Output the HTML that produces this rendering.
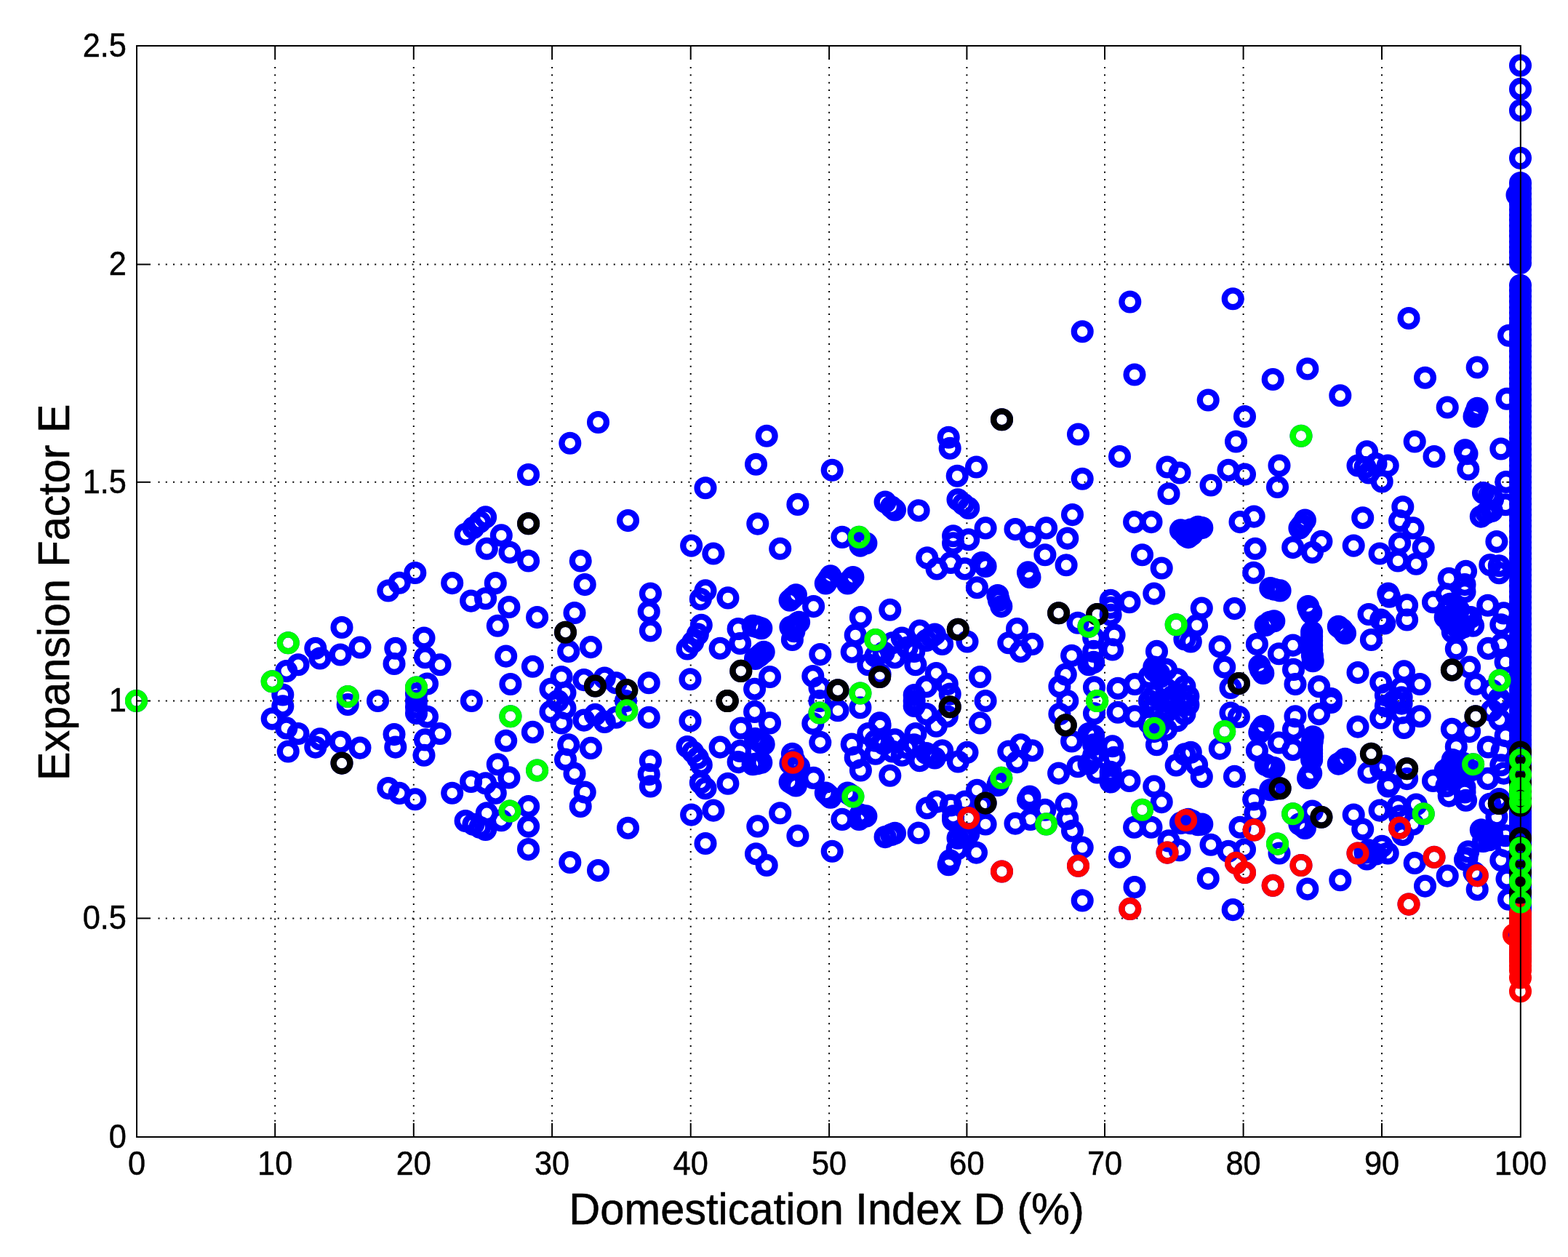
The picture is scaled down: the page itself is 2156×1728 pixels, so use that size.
<!DOCTYPE html>
<html><head><meta charset="utf-8"><title>Expansion Factor E vs Domestication Index D</title>
<style>
html,body{margin:0;padding:0;background:#fff;}
body{width:2156px;height:1728px;overflow:hidden;}
svg{display:block;}
</style></head>
<body>
<svg width="2156" height="1728" viewBox="0 0 2156 1728">
<rect width="2156" height="1728" fill="#fff"/>
<g stroke="#000" stroke-width="2" stroke-dasharray="2 8.2667" fill="none"><line x1="378.20" y1="92.10" x2="378.20" y2="1542.00"/><line x1="568.80" y1="92.10" x2="568.80" y2="1542.00"/><line x1="759.10" y1="92.10" x2="759.10" y2="1542.00"/><line x1="949.70" y1="92.10" x2="949.70" y2="1542.00"/><line x1="1140.10" y1="92.10" x2="1140.10" y2="1542.00"/><line x1="1329.40" y1="92.10" x2="1329.40" y2="1542.00"/><line x1="1519.00" y1="92.10" x2="1519.00" y2="1542.00"/><line x1="1709.60" y1="92.10" x2="1709.60" y2="1542.00"/><line x1="1900.00" y1="92.10" x2="1900.00" y2="1542.00"/><line x1="217.50" y1="1262.40" x2="2069.40" y2="1262.40"/><line x1="217.50" y1="963.50" x2="2069.40" y2="963.50"/><line x1="217.50" y1="662.80" x2="2069.40" y2="662.80"/><line x1="217.50" y1="363.50" x2="2069.40" y2="363.50"/></g>
<g stroke="#000" stroke-width="2" fill="none"><line x1="378.2" y1="1563.0" x2="378.2" y2="1544.0"/><line x1="378.2" y1="63.0" x2="378.2" y2="82.0"/><line x1="568.8" y1="1563.0" x2="568.8" y2="1544.0"/><line x1="568.8" y1="63.0" x2="568.8" y2="82.0"/><line x1="759.1" y1="1563.0" x2="759.1" y2="1544.0"/><line x1="759.1" y1="63.0" x2="759.1" y2="82.0"/><line x1="949.7" y1="1563.0" x2="949.7" y2="1544.0"/><line x1="949.7" y1="63.0" x2="949.7" y2="82.0"/><line x1="1140.1" y1="1563.0" x2="1140.1" y2="1544.0"/><line x1="1140.1" y1="63.0" x2="1140.1" y2="82.0"/><line x1="1329.4" y1="1563.0" x2="1329.4" y2="1544.0"/><line x1="1329.4" y1="63.0" x2="1329.4" y2="82.0"/><line x1="1519.0" y1="1563.0" x2="1519.0" y2="1544.0"/><line x1="1519.0" y1="63.0" x2="1519.0" y2="82.0"/><line x1="1709.6" y1="1563.0" x2="1709.6" y2="1544.0"/><line x1="1709.6" y1="63.0" x2="1709.6" y2="82.0"/><line x1="1900.0" y1="1563.0" x2="1900.0" y2="1544.0"/><line x1="1900.0" y1="63.0" x2="1900.0" y2="82.0"/><line x1="188.0" y1="1262.4" x2="207.0" y2="1262.4"/><line x1="2090.4" y1="1262.4" x2="2071.4" y2="1262.4"/><line x1="188.0" y1="963.5" x2="207.0" y2="963.5"/><line x1="2090.4" y1="963.5" x2="2071.4" y2="963.5"/><line x1="188.0" y1="662.8" x2="207.0" y2="662.8"/><line x1="2090.4" y1="662.8" x2="2071.4" y2="662.8"/><line x1="188.0" y1="363.5" x2="207.0" y2="363.5"/><line x1="2090.4" y1="363.5" x2="2071.4" y2="363.5"/></g>
<g fill="none" stroke-width="8.3"><g stroke="#0000ff"><circle cx="187.5" cy="963.5" r="11.4"/><circle cx="396.2" cy="883.8" r="11.4"/><circle cx="396.2" cy="1033.0" r="11.4"/><circle cx="374.2" cy="936.8" r="11.4"/><circle cx="374.2" cy="988.1" r="11.4"/><circle cx="433.8" cy="891.2" r="11.4"/><circle cx="433.8" cy="1027.1" r="11.4"/><circle cx="440.0" cy="905.0" r="11.4"/><circle cx="440.0" cy="1015.9" r="11.4"/><circle cx="410.0" cy="913.8" r="11.4"/><circle cx="410.0" cy="1008.5" r="11.4"/><circle cx="393.8" cy="922.5" r="11.4"/><circle cx="393.8" cy="1000.9" r="11.4"/><circle cx="470.0" cy="862.5" r="11.4"/><circle cx="470.0" cy="1049.1" r="11.4"/><circle cx="468.0" cy="900.0" r="11.4"/><circle cx="468.0" cy="1020.0" r="11.4"/><circle cx="495.0" cy="890.0" r="11.4"/><circle cx="495.0" cy="1028.1" r="11.4"/><circle cx="388.8" cy="955.0" r="11.4"/><circle cx="388.8" cy="970.9" r="11.4"/><circle cx="478.2" cy="957.5" r="11.4"/><circle cx="478.2" cy="968.5" r="11.4"/><circle cx="519.5" cy="963.5" r="11.4"/><circle cx="543.8" cy="891.2" r="11.4"/><circle cx="543.8" cy="1027.1" r="11.4"/><circle cx="542.0" cy="912.5" r="11.4"/><circle cx="542.0" cy="1009.6" r="11.4"/><circle cx="583.0" cy="877.0" r="11.4"/><circle cx="583.0" cy="1038.2" r="11.4"/><circle cx="584.5" cy="903.8" r="11.4"/><circle cx="584.5" cy="1016.9" r="11.4"/><circle cx="587.5" cy="940.0" r="11.4"/><circle cx="587.5" cy="985.2" r="11.4"/><circle cx="572.5" cy="945.0" r="11.4"/><circle cx="572.5" cy="980.5" r="11.4"/><circle cx="572.5" cy="953.8" r="11.4"/><circle cx="572.5" cy="972.1" r="11.4"/><circle cx="572.5" cy="963.5" r="11.4"/><circle cx="570.8" cy="787.5" r="11.4"/><circle cx="570.8" cy="1098.8" r="11.4"/><circle cx="549.2" cy="801.2" r="11.4"/><circle cx="549.2" cy="1090.4" r="11.4"/><circle cx="533.8" cy="812.0" r="11.4"/><circle cx="533.8" cy="1083.6" r="11.4"/><circle cx="822.5" cy="580.5" r="11.4"/><circle cx="822.5" cy="1196.6" r="11.4"/><circle cx="783.8" cy="609.2" r="11.4"/><circle cx="783.8" cy="1185.5" r="11.4"/><circle cx="726.5" cy="652.5" r="11.4"/><circle cx="726.5" cy="1167.6" r="11.4"/><circle cx="1054.2" cy="599.2" r="11.4"/><circle cx="1054.2" cy="1189.5" r="11.4"/><circle cx="1039.5" cy="638.2" r="11.4"/><circle cx="1039.5" cy="1173.7" r="11.4"/><circle cx="1144.2" cy="646.2" r="11.4"/><circle cx="1144.2" cy="1170.3" r="11.4"/><circle cx="970.0" cy="670.8" r="11.4"/><circle cx="970.0" cy="1159.5" r="11.4"/><circle cx="1553.8" cy="415.0" r="11.4"/><circle cx="1553.8" cy="1249.4" r="11.4"/><circle cx="1488.2" cy="455.8" r="11.4"/><circle cx="1488.2" cy="1237.9" r="11.4"/><circle cx="1560.0" cy="515.0" r="11.4"/><circle cx="1560.0" cy="1219.5" r="11.4"/><circle cx="1661.2" cy="550.0" r="11.4"/><circle cx="1661.2" cy="1207.6" r="11.4"/><circle cx="1482.5" cy="597.0" r="11.4"/><circle cx="1482.5" cy="1190.3" r="11.4"/><circle cx="1539.5" cy="627.5" r="11.4"/><circle cx="1539.5" cy="1178.2" r="11.4"/><circle cx="1304.2" cy="601.2" r="11.4"/><circle cx="1304.2" cy="1188.7" r="11.4"/><circle cx="1306.2" cy="616.2" r="11.4"/><circle cx="1306.2" cy="1182.8" r="11.4"/><circle cx="1342.5" cy="642.0" r="11.4"/><circle cx="1342.5" cy="1172.1" r="11.4"/><circle cx="1316.2" cy="654.2" r="11.4"/><circle cx="1316.2" cy="1166.9" r="11.4"/><circle cx="1488.2" cy="658.2" r="11.4"/><circle cx="1488.2" cy="1165.1" r="11.4"/><circle cx="1605.0" cy="642.0" r="11.4"/><circle cx="1605.0" cy="1172.1" r="11.4"/><circle cx="1622.0" cy="650.0" r="11.4"/><circle cx="1622.0" cy="1168.7" r="11.4"/><circle cx="1607.0" cy="678.8" r="11.4"/><circle cx="1607.0" cy="1155.9" r="11.4"/><circle cx="1665.0" cy="667.0" r="11.4"/><circle cx="1665.0" cy="1161.2" r="11.4"/><circle cx="1377.5" cy="576.8" r="11.4"/><circle cx="1377.5" cy="1198.0" r="11.4"/><circle cx="1695.2" cy="410.8" r="11.4"/><circle cx="1695.2" cy="1250.6" r="11.4"/><circle cx="1937.0" cy="437.5" r="11.4"/><circle cx="1937.0" cy="1243.1" r="11.4"/><circle cx="1797.8" cy="507.0" r="11.4"/><circle cx="1797.8" cy="1222.1" r="11.4"/><circle cx="1750.2" cy="521.5" r="11.4"/><circle cx="1750.2" cy="1217.3" r="11.4"/><circle cx="1842.8" cy="543.8" r="11.4"/><circle cx="1842.8" cy="1209.8" r="11.4"/><circle cx="1711.5" cy="572.5" r="11.4"/><circle cx="1711.5" cy="1199.5" r="11.4"/><circle cx="1699.5" cy="607.0" r="11.4"/><circle cx="1699.5" cy="1186.4" r="11.4"/><circle cx="1959.5" cy="519.2" r="11.4"/><circle cx="1959.5" cy="1218.1" r="11.4"/><circle cx="2031.2" cy="505.0" r="11.4"/><circle cx="2031.2" cy="1222.7" r="11.4"/><circle cx="1990.2" cy="560.0" r="11.4"/><circle cx="1990.2" cy="1204.1" r="11.4"/><circle cx="2031.2" cy="561.2" r="11.4"/><circle cx="2031.2" cy="1203.6" r="11.4"/><circle cx="2029.0" cy="567.0" r="11.4"/><circle cx="2029.0" cy="1201.6" r="11.4"/><circle cx="2027.0" cy="572.5" r="11.4"/><circle cx="2027.0" cy="1199.5" r="11.4"/><circle cx="2072.0" cy="548.2" r="11.4"/><circle cx="2072.0" cy="1208.2" r="11.4"/><circle cx="2074.5" cy="461.2" r="11.4"/><circle cx="2074.5" cy="1236.2" r="11.4"/><circle cx="1945.2" cy="607.0" r="11.4"/><circle cx="1945.2" cy="1186.4" r="11.4"/><circle cx="1972.0" cy="627.5" r="11.4"/><circle cx="1972.0" cy="1178.2" r="11.4"/><circle cx="2014.5" cy="618.8" r="11.4"/><circle cx="2014.5" cy="1181.7" r="11.4"/><circle cx="2017.0" cy="623.8" r="11.4"/><circle cx="2017.0" cy="1179.7" r="11.4"/><circle cx="2018.8" cy="645.0" r="11.4"/><circle cx="2018.8" cy="1170.8" r="11.4"/><circle cx="2063.8" cy="617.0" r="11.4"/><circle cx="2063.8" cy="1182.5" r="11.4"/><circle cx="1879.5" cy="620.8" r="11.4"/><circle cx="1879.5" cy="1180.9" r="11.4"/><circle cx="1867.0" cy="640.0" r="11.4"/><circle cx="1867.0" cy="1173.0" r="11.4"/><circle cx="1877.0" cy="642.5" r="11.4"/><circle cx="1877.0" cy="1171.9" r="11.4"/><circle cx="1892.0" cy="637.5" r="11.4"/><circle cx="1892.0" cy="1174.0" r="11.4"/><circle cx="1908.2" cy="640.0" r="11.4"/><circle cx="1908.2" cy="1173.0" r="11.4"/><circle cx="1900.2" cy="662.0" r="11.4"/><circle cx="1900.2" cy="1163.4" r="11.4"/><circle cx="1882.0" cy="650.0" r="11.4"/><circle cx="1882.0" cy="1168.7" r="11.4"/><circle cx="1759.0" cy="640.0" r="11.4"/><circle cx="1759.0" cy="1173.0" r="11.4"/><circle cx="1756.5" cy="669.5" r="11.4"/><circle cx="1756.5" cy="1160.1" r="11.4"/><circle cx="1689.0" cy="646.2" r="11.4"/><circle cx="1689.0" cy="1170.3" r="11.4"/><circle cx="1711.5" cy="652.0" r="11.4"/><circle cx="1711.5" cy="1167.8" r="11.4"/><circle cx="2070.8" cy="662.5" r="11.4"/><circle cx="2070.8" cy="1163.2" r="11.4"/><circle cx="2039.5" cy="677.5" r="11.4"/><circle cx="2039.5" cy="1156.5" r="11.4"/><circle cx="1789.0" cy="599.2" r="11.4"/><circle cx="1789.0" cy="1189.5" r="11.4"/><circle cx="667.6" cy="710.9" r="11.4"/><circle cx="667.6" cy="1140.5" r="11.4"/><circle cx="659.8" cy="717.6" r="11.4"/><circle cx="659.8" cy="1137.2" r="11.4"/><circle cx="650.9" cy="725.4" r="11.4"/><circle cx="650.9" cy="1133.2" r="11.4"/><circle cx="640.1" cy="734.3" r="11.4"/><circle cx="640.1" cy="1128.6" r="11.4"/><circle cx="689.3" cy="735.9" r="11.4"/><circle cx="689.3" cy="1127.7" r="11.4"/><circle cx="669.3" cy="754.3" r="11.4"/><circle cx="669.3" cy="1117.8" r="11.4"/><circle cx="701.0" cy="759.3" r="11.4"/><circle cx="701.0" cy="1115.1" r="11.4"/><circle cx="726.6" cy="771.0" r="11.4"/><circle cx="726.6" cy="1108.5" r="11.4"/><circle cx="863.5" cy="715.6" r="11.4"/><circle cx="863.5" cy="1138.2" r="11.4"/><circle cx="950.6" cy="750.1" r="11.4"/><circle cx="950.6" cy="1120.1" r="11.4"/><circle cx="798.2" cy="771.0" r="11.4"/><circle cx="798.2" cy="1108.5" r="11.4"/><circle cx="804.2" cy="803.6" r="11.4"/><circle cx="804.2" cy="1089.0" r="11.4"/><circle cx="621.7" cy="801.6" r="11.4"/><circle cx="621.7" cy="1090.2" r="11.4"/><circle cx="681.3" cy="801.6" r="11.4"/><circle cx="681.3" cy="1090.2" r="11.4"/><circle cx="667.6" cy="822.8" r="11.4"/><circle cx="667.6" cy="1076.7" r="11.4"/><circle cx="647.6" cy="826.1" r="11.4"/><circle cx="647.6" cy="1074.5" r="11.4"/><circle cx="699.9" cy="834.5" r="11.4"/><circle cx="699.9" cy="1068.9" r="11.4"/><circle cx="738.6" cy="848.6" r="11.4"/><circle cx="738.6" cy="1059.0" r="11.4"/><circle cx="684.3" cy="860.3" r="11.4"/><circle cx="684.3" cy="1050.7" r="11.4"/><circle cx="790.0" cy="842.5" r="11.4"/><circle cx="790.0" cy="1063.4" r="11.4"/><circle cx="894.4" cy="816.1" r="11.4"/><circle cx="894.4" cy="1081.0" r="11.4"/><circle cx="892.2" cy="840.8" r="11.4"/><circle cx="892.2" cy="1064.5" r="11.4"/><circle cx="894.4" cy="867.0" r="11.4"/><circle cx="894.4" cy="1045.7" r="11.4"/><circle cx="695.7" cy="902.1" r="11.4"/><circle cx="695.7" cy="1018.3" r="11.4"/><circle cx="732.4" cy="916.3" r="11.4"/><circle cx="732.4" cy="1006.4" r="11.4"/><circle cx="781.7" cy="895.4" r="11.4"/><circle cx="781.7" cy="1023.8" r="11.4"/><circle cx="812.4" cy="889.6" r="11.4"/><circle cx="812.4" cy="1028.4" r="11.4"/><circle cx="945.1" cy="891.9" r="11.4"/><circle cx="945.1" cy="1026.6" r="11.4"/><circle cx="952.7" cy="882.7" r="11.4"/><circle cx="952.7" cy="1033.8" r="11.4"/><circle cx="959.3" cy="871.9" r="11.4"/><circle cx="959.3" cy="1042.1" r="11.4"/><circle cx="605.0" cy="913.8" r="11.4"/><circle cx="605.0" cy="1008.5" r="11.4"/><circle cx="701.9" cy="940.5" r="11.4"/><circle cx="701.9" cy="984.7" r="11.4"/><circle cx="772.0" cy="930.5" r="11.4"/><circle cx="772.0" cy="993.9" r="11.4"/><circle cx="757.0" cy="947.2" r="11.4"/><circle cx="757.0" cy="978.4" r="11.4"/><circle cx="777.0" cy="952.2" r="11.4"/><circle cx="777.0" cy="973.6" r="11.4"/><circle cx="802.9" cy="934.6" r="11.4"/><circle cx="802.9" cy="990.1" r="11.4"/><circle cx="831.3" cy="932.1" r="11.4"/><circle cx="831.3" cy="992.4" r="11.4"/><circle cx="847.1" cy="938.8" r="11.4"/><circle cx="847.1" cy="986.3" r="11.4"/><circle cx="892.2" cy="938.8" r="11.4"/><circle cx="892.2" cy="986.3" r="11.4"/><circle cx="949.0" cy="933.8" r="11.4"/><circle cx="949.0" cy="990.8" r="11.4"/><circle cx="648.4" cy="963.5" r="11.4"/><circle cx="767.0" cy="963.5" r="11.4"/><circle cx="860.5" cy="963.5" r="11.4"/><circle cx="726.6" cy="719.7" r="11.4"/><circle cx="726.6" cy="1136.1" r="11.4"/><circle cx="777.5" cy="869.2" r="11.4"/><circle cx="777.5" cy="1044.1" r="11.4"/><circle cx="818.4" cy="943.0" r="11.4"/><circle cx="818.4" cy="982.4" r="11.4"/><circle cx="861.8" cy="948.8" r="11.4"/><circle cx="861.8" cy="976.8" r="11.4"/><circle cx="1096.9" cy="693.4" r="11.4"/><circle cx="1096.9" cy="1149.0" r="11.4"/><circle cx="1041.8" cy="720.1" r="11.4"/><circle cx="1041.8" cy="1135.9" r="11.4"/><circle cx="1072.7" cy="754.3" r="11.4"/><circle cx="1072.7" cy="1117.8" r="11.4"/><circle cx="980.9" cy="761.0" r="11.4"/><circle cx="980.9" cy="1114.1" r="11.4"/><circle cx="1157.9" cy="738.4" r="11.4"/><circle cx="1157.9" cy="1126.4" r="11.4"/><circle cx="1187.1" cy="746.8" r="11.4"/><circle cx="1187.1" cy="1121.9" r="11.4"/><circle cx="1185.4" cy="744.3" r="11.4"/><circle cx="1185.4" cy="1123.3" r="11.4"/><circle cx="1190.9" cy="746.8" r="11.4"/><circle cx="1190.9" cy="1121.9" r="11.4"/><circle cx="1182.9" cy="750.1" r="11.4"/><circle cx="1182.9" cy="1120.1" r="11.4"/><circle cx="1225.5" cy="696.7" r="11.4"/><circle cx="1225.5" cy="1147.4" r="11.4"/><circle cx="1217.1" cy="690.0" r="11.4"/><circle cx="1217.1" cy="1150.6" r="11.4"/><circle cx="1230.5" cy="700.9" r="11.4"/><circle cx="1230.5" cy="1145.4" r="11.4"/><circle cx="1138.7" cy="796.9" r="11.4"/><circle cx="1138.7" cy="1093.1" r="11.4"/><circle cx="1169.1" cy="797.7" r="11.4"/><circle cx="1169.1" cy="1092.6" r="11.4"/><circle cx="1090.2" cy="821.6" r="11.4"/><circle cx="1090.2" cy="1077.4" r="11.4"/><circle cx="1093.6" cy="859.5" r="11.4"/><circle cx="1093.6" cy="1051.3" r="11.4"/><circle cx="1098.6" cy="855.3" r="11.4"/><circle cx="1098.6" cy="1054.3" r="11.4"/><circle cx="1091.9" cy="867.8" r="11.4"/><circle cx="1091.9" cy="1045.1" r="11.4"/><circle cx="1086.9" cy="862.0" r="11.4"/><circle cx="1086.9" cy="1049.4" r="11.4"/><circle cx="1041.0" cy="861.7" r="11.4"/><circle cx="1041.0" cy="1049.7" r="11.4"/><circle cx="1046.8" cy="899.1" r="11.4"/><circle cx="1046.8" cy="1020.8" r="11.4"/><circle cx="1043.5" cy="902.1" r="11.4"/><circle cx="1043.5" cy="1018.3" r="11.4"/><circle cx="1263.1" cy="701.7" r="11.4"/><circle cx="1263.1" cy="1145.0" r="11.4"/><circle cx="1310.6" cy="736.8" r="11.4"/><circle cx="1310.6" cy="1127.3" r="11.4"/><circle cx="1310.6" cy="746.8" r="11.4"/><circle cx="1310.6" cy="1121.9" r="11.4"/><circle cx="1274.7" cy="766.8" r="11.4"/><circle cx="1274.7" cy="1110.8" r="11.4"/><circle cx="1288.1" cy="781.9" r="11.4"/><circle cx="1288.1" cy="1102.1" r="11.4"/><circle cx="1307.3" cy="773.5" r="11.4"/><circle cx="1307.3" cy="1107.0" r="11.4"/><circle cx="1142.0" cy="791.9" r="11.4"/><circle cx="1142.0" cy="1096.2" r="11.4"/><circle cx="1135.3" cy="801.9" r="11.4"/><circle cx="1135.3" cy="1090.0" r="11.4"/><circle cx="1172.9" cy="793.5" r="11.4"/><circle cx="1172.9" cy="1095.1" r="11.4"/><circle cx="1165.4" cy="801.9" r="11.4"/><circle cx="1165.4" cy="1090.0" r="11.4"/><circle cx="1094.4" cy="817.8" r="11.4"/><circle cx="1094.4" cy="1079.9" r="11.4"/><circle cx="1086.1" cy="825.3" r="11.4"/><circle cx="1086.1" cy="1075.0" r="11.4"/><circle cx="1118.6" cy="833.6" r="11.4"/><circle cx="1118.6" cy="1069.4" r="11.4"/><circle cx="1000.9" cy="821.9" r="11.4"/><circle cx="1000.9" cy="1077.2" r="11.4"/><circle cx="970.0" cy="811.9" r="11.4"/><circle cx="970.0" cy="1083.7" r="11.4"/><circle cx="963.3" cy="823.6" r="11.4"/><circle cx="963.3" cy="1076.1" r="11.4"/><circle cx="1223.8" cy="838.3" r="11.4"/><circle cx="1223.8" cy="1066.2" r="11.4"/><circle cx="1183.4" cy="848.6" r="11.4"/><circle cx="1183.4" cy="1059.0" r="11.4"/><circle cx="1096.1" cy="857.0" r="11.4"/><circle cx="1096.1" cy="1053.1" r="11.4"/><circle cx="1090.2" cy="863.7" r="11.4"/><circle cx="1090.2" cy="1048.2" r="11.4"/><circle cx="1089.4" cy="879.5" r="11.4"/><circle cx="1089.4" cy="1036.3" r="11.4"/><circle cx="1176.2" cy="872.9" r="11.4"/><circle cx="1176.2" cy="1041.4" r="11.4"/><circle cx="1171.2" cy="896.2" r="11.4"/><circle cx="1171.2" cy="1023.1" r="11.4"/><circle cx="1127.8" cy="899.6" r="11.4"/><circle cx="1127.8" cy="1020.4" r="11.4"/><circle cx="1015.1" cy="864.5" r="11.4"/><circle cx="1015.1" cy="1047.6" r="11.4"/><circle cx="1035.1" cy="860.3" r="11.4"/><circle cx="1035.1" cy="1050.7" r="11.4"/><circle cx="1046.8" cy="863.7" r="11.4"/><circle cx="1046.8" cy="1048.2" r="11.4"/><circle cx="1017.6" cy="884.5" r="11.4"/><circle cx="1017.6" cy="1032.4" r="11.4"/><circle cx="990.1" cy="891.2" r="11.4"/><circle cx="990.1" cy="1027.1" r="11.4"/><circle cx="1050.2" cy="896.2" r="11.4"/><circle cx="1050.2" cy="1023.1" r="11.4"/><circle cx="1038.5" cy="905.4" r="11.4"/><circle cx="1038.5" cy="1015.5" r="11.4"/><circle cx="1058.5" cy="930.5" r="11.4"/><circle cx="1058.5" cy="993.9" r="11.4"/><circle cx="1037.6" cy="947.2" r="11.4"/><circle cx="1037.6" cy="978.4" r="11.4"/><circle cx="1117.8" cy="929.6" r="11.4"/><circle cx="1117.8" cy="994.6" r="11.4"/><circle cx="1127.0" cy="945.5" r="11.4"/><circle cx="1127.0" cy="980.0" r="11.4"/><circle cx="1203.8" cy="902.1" r="11.4"/><circle cx="1203.8" cy="1018.3" r="11.4"/><circle cx="1193.8" cy="913.8" r="11.4"/><circle cx="1193.8" cy="1008.5" r="11.4"/><circle cx="1227.2" cy="883.7" r="11.4"/><circle cx="1227.2" cy="1033.0" r="11.4"/><circle cx="1230.5" cy="903.7" r="11.4"/><circle cx="1230.5" cy="1016.9" r="11.4"/><circle cx="1247.2" cy="890.4" r="11.4"/><circle cx="1247.2" cy="1027.8" r="11.4"/><circle cx="1264.7" cy="867.0" r="11.4"/><circle cx="1264.7" cy="1045.7" r="11.4"/><circle cx="1280.6" cy="875.4" r="11.4"/><circle cx="1280.6" cy="1039.5" r="11.4"/><circle cx="1295.6" cy="885.4" r="11.4"/><circle cx="1295.6" cy="1031.7" r="11.4"/><circle cx="1258.9" cy="913.8" r="11.4"/><circle cx="1258.9" cy="1008.5" r="11.4"/><circle cx="1287.3" cy="925.5" r="11.4"/><circle cx="1287.3" cy="998.3" r="11.4"/><circle cx="1302.3" cy="940.5" r="11.4"/><circle cx="1302.3" cy="984.7" r="11.4"/><circle cx="1273.9" cy="943.8" r="11.4"/><circle cx="1273.9" cy="981.6" r="11.4"/><circle cx="1257.2" cy="955.5" r="11.4"/><circle cx="1257.2" cy="970.4" r="11.4"/><circle cx="964.3" cy="859.3" r="11.4"/><circle cx="964.3" cy="1051.4" r="11.4"/><circle cx="1127.0" cy="963.5" r="11.4"/><circle cx="1257.2" cy="963.5" r="11.4"/><circle cx="1018.8" cy="922.4" r="11.4"/><circle cx="1018.8" cy="1001.0" r="11.4"/><circle cx="1152.0" cy="948.8" r="11.4"/><circle cx="1152.0" cy="976.8" r="11.4"/><circle cx="1209.6" cy="930.5" r="11.4"/><circle cx="1209.6" cy="993.9" r="11.4"/><circle cx="1000.1" cy="963.5" r="11.4"/><circle cx="1317.3" cy="865.3" r="11.4"/><circle cx="1317.3" cy="1047.0" r="11.4"/><circle cx="1181.2" cy="738.4" r="11.4"/><circle cx="1181.2" cy="1126.4" r="11.4"/><circle cx="1203.8" cy="879.5" r="11.4"/><circle cx="1203.8" cy="1036.3" r="11.4"/><circle cx="1182.9" cy="953.0" r="11.4"/><circle cx="1182.9" cy="972.8" r="11.4"/><circle cx="1474.5" cy="707.6" r="11.4"/><circle cx="1474.5" cy="1142.2" r="11.4"/><circle cx="1355.1" cy="725.9" r="11.4"/><circle cx="1355.1" cy="1132.9" r="11.4"/><circle cx="1396.0" cy="727.6" r="11.4"/><circle cx="1396.0" cy="1132.1" r="11.4"/><circle cx="1438.6" cy="725.9" r="11.4"/><circle cx="1438.6" cy="1132.9" r="11.4"/><circle cx="1416.8" cy="738.4" r="11.4"/><circle cx="1416.8" cy="1126.4" r="11.4"/><circle cx="1467.8" cy="740.1" r="11.4"/><circle cx="1467.8" cy="1125.5" r="11.4"/><circle cx="1331.7" cy="698.4" r="11.4"/><circle cx="1331.7" cy="1146.6" r="11.4"/><circle cx="1331.7" cy="741.8" r="11.4"/><circle cx="1331.7" cy="1124.6" r="11.4"/><circle cx="1436.9" cy="762.7" r="11.4"/><circle cx="1436.9" cy="1113.2" r="11.4"/><circle cx="1466.1" cy="776.8" r="11.4"/><circle cx="1466.1" cy="1105.1" r="11.4"/><circle cx="1350.1" cy="773.5" r="11.4"/><circle cx="1350.1" cy="1107.0" r="11.4"/><circle cx="1355.1" cy="778.5" r="11.4"/><circle cx="1355.1" cy="1104.1" r="11.4"/><circle cx="1326.7" cy="781.9" r="11.4"/><circle cx="1326.7" cy="1102.1" r="11.4"/><circle cx="1413.5" cy="786.9" r="11.4"/><circle cx="1413.5" cy="1099.2" r="11.4"/><circle cx="1416.0" cy="793.5" r="11.4"/><circle cx="1416.0" cy="1095.1" r="11.4"/><circle cx="1343.4" cy="807.7" r="11.4"/><circle cx="1343.4" cy="1086.3" r="11.4"/><circle cx="1371.8" cy="818.6" r="11.4"/><circle cx="1371.8" cy="1079.4" r="11.4"/><circle cx="1373.4" cy="825.3" r="11.4"/><circle cx="1373.4" cy="1075.0" r="11.4"/><circle cx="1376.8" cy="833.6" r="11.4"/><circle cx="1376.8" cy="1069.4" r="11.4"/><circle cx="1559.6" cy="717.6" r="11.4"/><circle cx="1559.6" cy="1137.2" r="11.4"/><circle cx="1583.0" cy="717.6" r="11.4"/><circle cx="1583.0" cy="1137.2" r="11.4"/><circle cx="1570.5" cy="762.7" r="11.4"/><circle cx="1570.5" cy="1113.2" r="11.4"/><circle cx="1597.2" cy="781.0" r="11.4"/><circle cx="1597.2" cy="1102.6" r="11.4"/><circle cx="1586.8" cy="816.1" r="11.4"/><circle cx="1586.8" cy="1081.0" r="11.4"/><circle cx="1552.9" cy="827.8" r="11.4"/><circle cx="1552.9" cy="1073.4" r="11.4"/><circle cx="1527.1" cy="825.3" r="11.4"/><circle cx="1527.1" cy="1075.0" r="11.4"/><circle cx="1527.1" cy="835.3" r="11.4"/><circle cx="1527.1" cy="1068.3" r="11.4"/><circle cx="1527.1" cy="845.3" r="11.4"/><circle cx="1527.1" cy="1061.4" r="11.4"/><circle cx="1652.3" cy="836.1" r="11.4"/><circle cx="1652.3" cy="1067.7" r="11.4"/><circle cx="1645.6" cy="859.5" r="11.4"/><circle cx="1645.6" cy="1051.3" r="11.4"/><circle cx="1628.9" cy="878.7" r="11.4"/><circle cx="1628.9" cy="1036.9" r="11.4"/><circle cx="1637.3" cy="882.0" r="11.4"/><circle cx="1637.3" cy="1034.3" r="11.4"/><circle cx="1590.5" cy="895.4" r="11.4"/><circle cx="1590.5" cy="1023.8" r="11.4"/><circle cx="1398.5" cy="864.5" r="11.4"/><circle cx="1398.5" cy="1047.6" r="11.4"/><circle cx="1386.8" cy="883.7" r="11.4"/><circle cx="1386.8" cy="1033.0" r="11.4"/><circle cx="1419.4" cy="885.4" r="11.4"/><circle cx="1419.4" cy="1031.7" r="11.4"/><circle cx="1403.5" cy="895.4" r="11.4"/><circle cx="1403.5" cy="1023.8" r="11.4"/><circle cx="1330.0" cy="882.0" r="11.4"/><circle cx="1330.0" cy="1034.3" r="11.4"/><circle cx="1482.0" cy="856.2" r="11.4"/><circle cx="1482.0" cy="1053.7" r="11.4"/><circle cx="1532.1" cy="872.9" r="11.4"/><circle cx="1532.1" cy="1041.4" r="11.4"/><circle cx="1529.6" cy="892.9" r="11.4"/><circle cx="1529.6" cy="1025.8" r="11.4"/><circle cx="1503.7" cy="877.0" r="11.4"/><circle cx="1503.7" cy="1038.2" r="11.4"/><circle cx="1503.7" cy="895.4" r="11.4"/><circle cx="1503.7" cy="1023.8" r="11.4"/><circle cx="1473.6" cy="901.2" r="11.4"/><circle cx="1473.6" cy="1019.0" r="11.4"/><circle cx="1503.7" cy="910.4" r="11.4"/><circle cx="1503.7" cy="1011.3" r="11.4"/><circle cx="1497.0" cy="913.8" r="11.4"/><circle cx="1497.0" cy="1008.5" r="11.4"/><circle cx="1465.3" cy="927.1" r="11.4"/><circle cx="1465.3" cy="996.9" r="11.4"/><circle cx="1456.9" cy="943.8" r="11.4"/><circle cx="1456.9" cy="981.6" r="11.4"/><circle cx="1347.6" cy="930.5" r="11.4"/><circle cx="1347.6" cy="993.9" r="11.4"/><circle cx="1504.5" cy="944.7" r="11.4"/><circle cx="1504.5" cy="980.8" r="11.4"/><circle cx="1537.1" cy="946.3" r="11.4"/><circle cx="1537.1" cy="979.2" r="11.4"/><circle cx="1560.4" cy="940.5" r="11.4"/><circle cx="1560.4" cy="984.7" r="11.4"/><circle cx="1587.2" cy="922.1" r="11.4"/><circle cx="1587.2" cy="1001.3" r="11.4"/><circle cx="1595.5" cy="930.5" r="11.4"/><circle cx="1595.5" cy="993.9" r="11.4"/><circle cx="1618.9" cy="933.8" r="11.4"/><circle cx="1618.9" cy="990.8" r="11.4"/><circle cx="1628.9" cy="943.8" r="11.4"/><circle cx="1628.9" cy="981.6" r="11.4"/><circle cx="1603.9" cy="947.2" r="11.4"/><circle cx="1603.9" cy="978.4" r="11.4"/><circle cx="1587.2" cy="955.5" r="11.4"/><circle cx="1587.2" cy="970.4" r="11.4"/><circle cx="1612.2" cy="957.2" r="11.4"/><circle cx="1612.2" cy="968.8" r="11.4"/><circle cx="1633.9" cy="957.2" r="11.4"/><circle cx="1633.9" cy="968.8" r="11.4"/><circle cx="1603.9" cy="963.5" r="11.4"/><circle cx="1623.9" cy="963.5" r="11.4"/><circle cx="1580.5" cy="963.5" r="11.4"/><circle cx="1355.1" cy="963.5" r="11.4"/><circle cx="1467.8" cy="963.5" r="11.4"/><circle cx="1677.3" cy="888.7" r="11.4"/><circle cx="1677.3" cy="1029.1" r="11.4"/><circle cx="1623.4" cy="728.9" r="11.4"/><circle cx="1623.4" cy="1131.4" r="11.4"/><circle cx="1647.3" cy="724.2" r="11.4"/><circle cx="1647.3" cy="1133.8" r="11.4"/><circle cx="1652.8" cy="725.6" r="11.4"/><circle cx="1652.8" cy="1133.1" r="11.4"/><circle cx="1633.9" cy="738.6" r="11.4"/><circle cx="1633.9" cy="1126.3" r="11.4"/><circle cx="1628.9" cy="731.4" r="11.4"/><circle cx="1628.9" cy="1130.1" r="11.4"/><circle cx="1637.3" cy="728.1" r="11.4"/><circle cx="1637.3" cy="1131.8" r="11.4"/><circle cx="1642.3" cy="729.8" r="11.4"/><circle cx="1642.3" cy="1131.0" r="11.4"/><circle cx="1630.6" cy="736.4" r="11.4"/><circle cx="1630.6" cy="1127.5" r="11.4"/><circle cx="1638.9" cy="734.8" r="11.4"/><circle cx="1638.9" cy="1128.3" r="11.4"/><circle cx="1455.6" cy="842.8" r="11.4"/><circle cx="1455.6" cy="1063.1" r="11.4"/><circle cx="1508.7" cy="844.5" r="11.4"/><circle cx="1508.7" cy="1062.0" r="11.4"/><circle cx="1497.0" cy="861.2" r="11.4"/><circle cx="1497.0" cy="1050.1" r="11.4"/><circle cx="1617.2" cy="858.7" r="11.4"/><circle cx="1617.2" cy="1051.9" r="11.4"/><circle cx="1508.7" cy="963.5" r="11.4"/><circle cx="1705.0" cy="717.6" r="11.4"/><circle cx="1705.0" cy="1137.2" r="11.4"/><circle cx="1724.2" cy="710.1" r="11.4"/><circle cx="1724.2" cy="1140.9" r="11.4"/><circle cx="1725.9" cy="754.3" r="11.4"/><circle cx="1725.9" cy="1117.8" r="11.4"/><circle cx="1723.7" cy="787.2" r="11.4"/><circle cx="1723.7" cy="1099.0" r="11.4"/><circle cx="1697.5" cy="836.6" r="11.4"/><circle cx="1697.5" cy="1067.4" r="11.4"/><circle cx="1794.4" cy="715.1" r="11.4"/><circle cx="1794.4" cy="1138.4" r="11.4"/><circle cx="1790.2" cy="721.7" r="11.4"/><circle cx="1790.2" cy="1135.1" r="11.4"/><circle cx="1786.9" cy="725.9" r="11.4"/><circle cx="1786.9" cy="1132.9" r="11.4"/><circle cx="1816.9" cy="744.3" r="11.4"/><circle cx="1816.9" cy="1123.3" r="11.4"/><circle cx="1777.7" cy="752.6" r="11.4"/><circle cx="1777.7" cy="1118.8" r="11.4"/><circle cx="1804.4" cy="759.3" r="11.4"/><circle cx="1804.4" cy="1115.1" r="11.4"/><circle cx="1873.7" cy="711.7" r="11.4"/><circle cx="1873.7" cy="1140.1" r="11.4"/><circle cx="1861.2" cy="750.1" r="11.4"/><circle cx="1861.2" cy="1120.1" r="11.4"/><circle cx="1928.8" cy="696.7" r="11.4"/><circle cx="1928.8" cy="1147.4" r="11.4"/><circle cx="1924.6" cy="715.9" r="11.4"/><circle cx="1924.6" cy="1138.0" r="11.4"/><circle cx="1943.0" cy="725.9" r="11.4"/><circle cx="1943.0" cy="1132.9" r="11.4"/><circle cx="1897.1" cy="761.0" r="11.4"/><circle cx="1897.1" cy="1114.1" r="11.4"/><circle cx="1924.6" cy="746.8" r="11.4"/><circle cx="1924.6" cy="1121.9" r="11.4"/><circle cx="1957.2" cy="752.6" r="11.4"/><circle cx="1957.2" cy="1118.8" r="11.4"/><circle cx="1922.1" cy="771.0" r="11.4"/><circle cx="1922.1" cy="1108.5" r="11.4"/><circle cx="1947.2" cy="775.2" r="11.4"/><circle cx="1947.2" cy="1106.0" r="11.4"/><circle cx="1746.8" cy="808.6" r="11.4"/><circle cx="1746.8" cy="1085.8" r="11.4"/><circle cx="1752.6" cy="810.2" r="11.4"/><circle cx="1752.6" cy="1084.8" r="11.4"/><circle cx="1760.1" cy="811.9" r="11.4"/><circle cx="1760.1" cy="1083.7" r="11.4"/><circle cx="1798.6" cy="833.6" r="11.4"/><circle cx="1798.6" cy="1069.4" r="11.4"/><circle cx="1800.2" cy="838.6" r="11.4"/><circle cx="1800.2" cy="1066.0" r="11.4"/><circle cx="1802.7" cy="842.8" r="11.4"/><circle cx="1802.7" cy="1063.1" r="11.4"/><circle cx="1746.0" cy="855.3" r="11.4"/><circle cx="1746.0" cy="1054.3" r="11.4"/><circle cx="1740.1" cy="859.5" r="11.4"/><circle cx="1740.1" cy="1051.3" r="11.4"/><circle cx="1751.8" cy="853.7" r="11.4"/><circle cx="1751.8" cy="1055.5" r="11.4"/><circle cx="1728.4" cy="885.4" r="11.4"/><circle cx="1728.4" cy="1031.7" r="11.4"/><circle cx="1758.5" cy="898.7" r="11.4"/><circle cx="1758.5" cy="1021.0" r="11.4"/><circle cx="1777.7" cy="887.1" r="11.4"/><circle cx="1777.7" cy="1030.4" r="11.4"/><circle cx="1803.6" cy="868.7" r="11.4"/><circle cx="1803.6" cy="1044.5" r="11.4"/><circle cx="1803.6" cy="874.5" r="11.4"/><circle cx="1803.6" cy="1040.1" r="11.4"/><circle cx="1803.6" cy="880.4" r="11.4"/><circle cx="1803.6" cy="1035.6" r="11.4"/><circle cx="1803.6" cy="887.1" r="11.4"/><circle cx="1803.6" cy="1030.4" r="11.4"/><circle cx="1803.6" cy="893.7" r="11.4"/><circle cx="1803.6" cy="1025.1" r="11.4"/><circle cx="1804.4" cy="901.2" r="11.4"/><circle cx="1804.4" cy="1019.0" r="11.4"/><circle cx="1805.2" cy="908.8" r="11.4"/><circle cx="1805.2" cy="1012.7" r="11.4"/><circle cx="1993.9" cy="830.3" r="11.4"/><circle cx="1993.9" cy="1071.7" r="11.4"/><circle cx="1997.3" cy="847.0" r="11.4"/><circle cx="1997.3" cy="1060.2" r="11.4"/><circle cx="2005.6" cy="838.6" r="11.4"/><circle cx="2005.6" cy="1066.0" r="11.4"/><circle cx="2014.0" cy="847.0" r="11.4"/><circle cx="2014.0" cy="1060.2" r="11.4"/><circle cx="1993.9" cy="857.0" r="11.4"/><circle cx="1993.9" cy="1053.1" r="11.4"/><circle cx="2012.3" cy="862.0" r="11.4"/><circle cx="2012.3" cy="1049.4" r="11.4"/><circle cx="1778.5" cy="920.4" r="11.4"/><circle cx="1778.5" cy="1002.7" r="11.4"/><circle cx="1781.0" cy="940.5" r="11.4"/><circle cx="1781.0" cy="984.7" r="11.4"/><circle cx="1731.8" cy="915.4" r="11.4"/><circle cx="1731.8" cy="1007.1" r="11.4"/><circle cx="1733.4" cy="920.4" r="11.4"/><circle cx="1733.4" cy="1002.7" r="11.4"/><circle cx="1736.8" cy="925.5" r="11.4"/><circle cx="1736.8" cy="998.3" r="11.4"/><circle cx="1840.3" cy="861.2" r="11.4"/><circle cx="1840.3" cy="1050.1" r="11.4"/><circle cx="1845.3" cy="865.3" r="11.4"/><circle cx="1845.3" cy="1047.0" r="11.4"/><circle cx="1849.5" cy="870.4" r="11.4"/><circle cx="1849.5" cy="1043.3" r="11.4"/><circle cx="1882.0" cy="844.5" r="11.4"/><circle cx="1882.0" cy="1062.0" r="11.4"/><circle cx="1885.4" cy="879.5" r="11.4"/><circle cx="1885.4" cy="1036.3" r="11.4"/><circle cx="1908.8" cy="816.1" r="11.4"/><circle cx="1908.8" cy="1081.0" r="11.4"/><circle cx="1910.4" cy="820.3" r="11.4"/><circle cx="1910.4" cy="1078.3" r="11.4"/><circle cx="1898.7" cy="852.0" r="11.4"/><circle cx="1898.7" cy="1056.7" r="11.4"/><circle cx="1903.7" cy="857.0" r="11.4"/><circle cx="1903.7" cy="1053.1" r="11.4"/><circle cx="1934.6" cy="831.9" r="11.4"/><circle cx="1934.6" cy="1070.6" r="11.4"/><circle cx="1934.6" cy="852.0" r="11.4"/><circle cx="1934.6" cy="1056.7" r="11.4"/><circle cx="1867.0" cy="924.6" r="11.4"/><circle cx="1867.0" cy="999.1" r="11.4"/><circle cx="1813.6" cy="943.8" r="11.4"/><circle cx="1813.6" cy="981.6" r="11.4"/><circle cx="1830.3" cy="960.5" r="11.4"/><circle cx="1830.3" cy="965.5" r="11.4"/><circle cx="1930.5" cy="922.9" r="11.4"/><circle cx="1930.5" cy="1000.5" r="11.4"/><circle cx="1898.7" cy="938.0" r="11.4"/><circle cx="1898.7" cy="987.0" r="11.4"/><circle cx="1952.2" cy="940.5" r="11.4"/><circle cx="1952.2" cy="984.7" r="11.4"/><circle cx="1927.1" cy="945.5" r="11.4"/><circle cx="1927.1" cy="980.0" r="11.4"/><circle cx="1905.4" cy="955.5" r="11.4"/><circle cx="1905.4" cy="970.4" r="11.4"/><circle cx="1927.1" cy="958.8" r="11.4"/><circle cx="1927.1" cy="967.1" r="11.4"/><circle cx="1917.1" cy="963.5" r="11.4"/><circle cx="1992.2" cy="795.2" r="11.4"/><circle cx="1992.2" cy="1094.1" r="11.4"/><circle cx="2015.6" cy="785.2" r="11.4"/><circle cx="2015.6" cy="1100.2" r="11.4"/><circle cx="2014.0" cy="803.6" r="11.4"/><circle cx="2014.0" cy="1089.0" r="11.4"/><circle cx="2014.0" cy="813.6" r="11.4"/><circle cx="2014.0" cy="1082.6" r="11.4"/><circle cx="1988.9" cy="816.9" r="11.4"/><circle cx="1988.9" cy="1080.5" r="11.4"/><circle cx="1970.5" cy="827.8" r="11.4"/><circle cx="1970.5" cy="1073.4" r="11.4"/><circle cx="1990.6" cy="838.6" r="11.4"/><circle cx="1990.6" cy="1066.0" r="11.4"/><circle cx="2000.6" cy="842.0" r="11.4"/><circle cx="2000.6" cy="1063.7" r="11.4"/><circle cx="1987.2" cy="848.6" r="11.4"/><circle cx="1987.2" cy="1059.0" r="11.4"/><circle cx="2005.6" cy="853.7" r="11.4"/><circle cx="2005.6" cy="1055.5" r="11.4"/><circle cx="2022.3" cy="848.6" r="11.4"/><circle cx="2022.3" cy="1059.0" r="11.4"/><circle cx="2025.6" cy="860.3" r="11.4"/><circle cx="2025.6" cy="1050.7" r="11.4"/><circle cx="2005.6" cy="865.3" r="11.4"/><circle cx="2005.6" cy="1047.0" r="11.4"/><circle cx="1997.3" cy="868.7" r="11.4"/><circle cx="1997.3" cy="1044.5" r="11.4"/><circle cx="2002.3" cy="892.1" r="11.4"/><circle cx="2002.3" cy="1026.4" r="11.4"/><circle cx="2020.6" cy="917.1" r="11.4"/><circle cx="2020.6" cy="1005.6" r="11.4"/><circle cx="2029.0" cy="940.5" r="11.4"/><circle cx="2029.0" cy="984.7" r="11.4"/><circle cx="1683.7" cy="917.1" r="11.4"/><circle cx="1683.7" cy="1005.6" r="11.4"/><circle cx="1692.0" cy="945.5" r="11.4"/><circle cx="1692.0" cy="980.0" r="11.4"/><circle cx="1703.4" cy="939.6" r="11.4"/><circle cx="1703.4" cy="985.5" r="11.4"/><circle cx="1996.4" cy="920.9" r="11.4"/><circle cx="1996.4" cy="1002.3" r="11.4"/><circle cx="2070.1" cy="693.8" r="11.4"/><circle cx="2070.1" cy="1148.8" r="11.4"/><circle cx="2047.5" cy="681.3" r="11.4"/><circle cx="2047.5" cy="1154.7" r="11.4"/><circle cx="2052.6" cy="686.3" r="11.4"/><circle cx="2052.6" cy="1152.4" r="11.4"/><circle cx="2036.3" cy="710.1" r="11.4"/><circle cx="2036.3" cy="1140.9" r="11.4"/><circle cx="2043.8" cy="705.1" r="11.4"/><circle cx="2043.8" cy="1143.4" r="11.4"/><circle cx="2051.3" cy="702.6" r="11.4"/><circle cx="2051.3" cy="1144.6" r="11.4"/><circle cx="2057.9" cy="744.6" r="11.4"/><circle cx="2057.9" cy="1123.1" r="11.4"/><circle cx="2048.8" cy="776.5" r="11.4"/><circle cx="2048.8" cy="1105.3" r="11.4"/><circle cx="2061.3" cy="777.8" r="11.4"/><circle cx="2061.3" cy="1104.5" r="11.4"/><circle cx="2061.3" cy="787.8" r="11.4"/><circle cx="2061.3" cy="1098.6" r="11.4"/><circle cx="2045.7" cy="832.2" r="11.4"/><circle cx="2045.7" cy="1070.4" r="11.4"/><circle cx="2067.6" cy="842.9" r="11.4"/><circle cx="2067.6" cy="1063.1" r="11.4"/><circle cx="2063.8" cy="858.8" r="11.4"/><circle cx="2063.8" cy="1051.8" r="11.4"/><circle cx="2065.1" cy="885.1" r="11.4"/><circle cx="2065.1" cy="1031.9" r="11.4"/><circle cx="2070.1" cy="910.1" r="11.4"/><circle cx="2070.1" cy="1011.6" r="11.4"/><circle cx="2046.3" cy="891.4" r="11.4"/><circle cx="2046.3" cy="1027.0" r="11.4"/><circle cx="2051.3" cy="949.0" r="11.4"/><circle cx="2051.3" cy="976.7" r="11.4"/><circle cx="2061.3" cy="960.2" r="11.4"/><circle cx="2061.3" cy="965.7" r="11.4"/><circle cx="2062.0" cy="935.2" r="11.4"/><circle cx="2062.0" cy="989.6" r="11.4"/><circle cx="1317.0" cy="686.7" r="11.4"/><circle cx="1317.0" cy="1152.2" r="11.4"/><circle cx="1324.5" cy="693.0" r="11.4"/><circle cx="1324.5" cy="1149.2" r="11.4"/><circle cx="1273.6" cy="880.4" r="11.4"/><circle cx="1273.6" cy="1035.6" r="11.4"/><circle cx="1285.3" cy="872.0" r="11.4"/><circle cx="1285.3" cy="1042.0" r="11.4"/><circle cx="1256.9" cy="895.4" r="11.4"/><circle cx="1256.9" cy="1023.8" r="11.4"/><circle cx="1240.2" cy="877.0" r="11.4"/><circle cx="1240.2" cy="1038.2" r="11.4"/><circle cx="1215.1" cy="897.1" r="11.4"/><circle cx="1215.1" cy="1022.4" r="11.4"/><circle cx="1210.1" cy="927.1" r="11.4"/><circle cx="1210.1" cy="996.9" r="11.4"/><circle cx="1586.8" cy="917.1" r="11.4"/><circle cx="1586.8" cy="1005.6" r="11.4"/><circle cx="1593.5" cy="925.5" r="11.4"/><circle cx="1593.5" cy="998.3" r="11.4"/><circle cx="1580.1" cy="930.5" r="11.4"/><circle cx="1580.1" cy="993.9" r="11.4"/><circle cx="1603.5" cy="920.4" r="11.4"/><circle cx="1603.5" cy="1002.7" r="11.4"/><circle cx="1306.2" cy="971.8" r="11.4"/><circle cx="1306.2" cy="954.1" r="11.4"/><circle cx="2090.5" cy="251.5" r="11.4"/><circle cx="2090.5" cy="1288.5" r="11.4"/><circle cx="2090.5" cy="258.8" r="11.4"/><circle cx="2090.5" cy="1287.0" r="11.4"/><circle cx="2090.5" cy="266.2" r="11.4"/><circle cx="2090.5" cy="1285.4" r="11.4"/><circle cx="2090.5" cy="273.5" r="11.4"/><circle cx="2090.5" cy="1283.8" r="11.4"/><circle cx="2090.5" cy="280.8" r="11.4"/><circle cx="2090.5" cy="1282.2" r="11.4"/><circle cx="2090.5" cy="288.2" r="11.4"/><circle cx="2090.5" cy="1280.6" r="11.4"/><circle cx="2090.5" cy="295.5" r="11.4"/><circle cx="2090.5" cy="1279.0" r="11.4"/><circle cx="2090.5" cy="302.8" r="11.4"/><circle cx="2090.5" cy="1277.3" r="11.4"/><circle cx="2090.5" cy="310.2" r="11.4"/><circle cx="2090.5" cy="1275.7" r="11.4"/><circle cx="2090.5" cy="317.5" r="11.4"/><circle cx="2090.5" cy="1274.0" r="11.4"/><circle cx="2090.5" cy="324.8" r="11.4"/><circle cx="2090.5" cy="1272.2" r="11.4"/><circle cx="2090.5" cy="332.2" r="11.4"/><circle cx="2090.5" cy="1270.5" r="11.4"/><circle cx="2090.5" cy="339.5" r="11.4"/><circle cx="2090.5" cy="1268.8" r="11.4"/><circle cx="2090.5" cy="346.8" r="11.4"/><circle cx="2090.5" cy="1267.0" r="11.4"/><circle cx="2090.5" cy="354.2" r="11.4"/><circle cx="2090.5" cy="1265.2" r="11.4"/><circle cx="2090.5" cy="361.5" r="11.4"/><circle cx="2090.5" cy="1263.4" r="11.4"/><circle cx="2090.5" cy="392.3" r="11.4"/><circle cx="2090.5" cy="1255.5" r="11.4"/><circle cx="2090.5" cy="399.8" r="11.4"/><circle cx="2090.5" cy="1253.5" r="11.4"/><circle cx="2090.5" cy="407.3" r="11.4"/><circle cx="2090.5" cy="1251.5" r="11.4"/><circle cx="2090.5" cy="414.8" r="11.4"/><circle cx="2090.5" cy="1249.5" r="11.4"/><circle cx="2090.5" cy="422.4" r="11.4"/><circle cx="2090.5" cy="1247.4" r="11.4"/><circle cx="2090.5" cy="429.9" r="11.4"/><circle cx="2090.5" cy="1245.3" r="11.4"/><circle cx="2090.5" cy="437.4" r="11.4"/><circle cx="2090.5" cy="1243.2" r="11.4"/><circle cx="2090.5" cy="444.9" r="11.4"/><circle cx="2090.5" cy="1241.0" r="11.4"/><circle cx="2090.5" cy="452.4" r="11.4"/><circle cx="2090.5" cy="1238.8" r="11.4"/><circle cx="2090.5" cy="459.9" r="11.4"/><circle cx="2090.5" cy="1236.6" r="11.4"/><circle cx="2090.5" cy="467.5" r="11.4"/><circle cx="2090.5" cy="1234.4" r="11.4"/><circle cx="2090.5" cy="475.0" r="11.4"/><circle cx="2090.5" cy="1232.1" r="11.4"/><circle cx="2090.5" cy="482.5" r="11.4"/><circle cx="2090.5" cy="1229.8" r="11.4"/><circle cx="2090.5" cy="490.0" r="11.4"/><circle cx="2090.5" cy="1227.5" r="11.4"/><circle cx="2090.5" cy="497.5" r="11.4"/><circle cx="2090.5" cy="1225.1" r="11.4"/><circle cx="2090.5" cy="505.0" r="11.4"/><circle cx="2090.5" cy="1222.7" r="11.4"/><circle cx="2090.5" cy="512.6" r="11.4"/><circle cx="2090.5" cy="1220.3" r="11.4"/><circle cx="2090.5" cy="520.1" r="11.4"/><circle cx="2090.5" cy="1217.8" r="11.4"/><circle cx="2090.5" cy="527.6" r="11.4"/><circle cx="2090.5" cy="1215.3" r="11.4"/><circle cx="2090.5" cy="535.1" r="11.4"/><circle cx="2090.5" cy="1212.8" r="11.4"/><circle cx="2090.5" cy="542.6" r="11.4"/><circle cx="2090.5" cy="1210.2" r="11.4"/><circle cx="2090.5" cy="550.1" r="11.4"/><circle cx="2090.5" cy="1207.6" r="11.4"/><circle cx="2090.5" cy="557.6" r="11.4"/><circle cx="2090.5" cy="1204.9" r="11.4"/><circle cx="2090.5" cy="565.2" r="11.4"/><circle cx="2090.5" cy="1202.2" r="11.4"/><circle cx="2090.5" cy="572.7" r="11.4"/><circle cx="2090.5" cy="1199.5" r="11.4"/><circle cx="2090.5" cy="580.2" r="11.4"/><circle cx="2090.5" cy="1196.7" r="11.4"/><circle cx="2090.5" cy="587.7" r="11.4"/><circle cx="2090.5" cy="1193.9" r="11.4"/><circle cx="2090.5" cy="595.2" r="11.4"/><circle cx="2090.5" cy="1191.0" r="11.4"/><circle cx="2090.5" cy="602.7" r="11.4"/><circle cx="2090.5" cy="1188.1" r="11.4"/><circle cx="2090.5" cy="610.3" r="11.4"/><circle cx="2090.5" cy="1185.1" r="11.4"/><circle cx="2090.5" cy="617.8" r="11.4"/><circle cx="2090.5" cy="1182.1" r="11.4"/><circle cx="2090.5" cy="625.3" r="11.4"/><circle cx="2090.5" cy="1179.1" r="11.4"/><circle cx="2090.5" cy="632.8" r="11.4"/><circle cx="2090.5" cy="1176.0" r="11.4"/><circle cx="2090.5" cy="640.3" r="11.4"/><circle cx="2090.5" cy="1172.8" r="11.4"/><circle cx="2090.5" cy="647.8" r="11.4"/><circle cx="2090.5" cy="1169.6" r="11.4"/><circle cx="2090.5" cy="655.4" r="11.4"/><circle cx="2090.5" cy="1166.4" r="11.4"/><circle cx="2090.5" cy="662.9" r="11.4"/><circle cx="2090.5" cy="1163.1" r="11.4"/><circle cx="2090.5" cy="670.4" r="11.4"/><circle cx="2090.5" cy="1159.7" r="11.4"/><circle cx="2090.5" cy="677.9" r="11.4"/><circle cx="2090.5" cy="1156.3" r="11.4"/><circle cx="2090.5" cy="685.4" r="11.4"/><circle cx="2090.5" cy="1152.8" r="11.4"/><circle cx="2090.5" cy="692.9" r="11.4"/><circle cx="2090.5" cy="1149.2" r="11.4"/><circle cx="2090.5" cy="700.4" r="11.4"/><circle cx="2090.5" cy="1145.6" r="11.4"/><circle cx="2090.5" cy="708.0" r="11.4"/><circle cx="2090.5" cy="1142.0" r="11.4"/><circle cx="2090.5" cy="715.5" r="11.4"/><circle cx="2090.5" cy="1138.2" r="11.4"/><circle cx="2090.5" cy="723.0" r="11.4"/><circle cx="2090.5" cy="1134.4" r="11.4"/><circle cx="2090.5" cy="730.5" r="11.4"/><circle cx="2090.5" cy="1130.6" r="11.4"/><circle cx="2090.5" cy="738.0" r="11.4"/><circle cx="2090.5" cy="1126.6" r="11.4"/><circle cx="2090.5" cy="745.5" r="11.4"/><circle cx="2090.5" cy="1122.6" r="11.4"/><circle cx="2090.5" cy="753.1" r="11.4"/><circle cx="2090.5" cy="1118.5" r="11.4"/><circle cx="2090.5" cy="760.6" r="11.4"/><circle cx="2090.5" cy="1114.4" r="11.4"/><circle cx="2090.5" cy="768.1" r="11.4"/><circle cx="2090.5" cy="1110.1" r="11.4"/><circle cx="2090.5" cy="775.6" r="11.4"/><circle cx="2090.5" cy="1105.8" r="11.4"/><circle cx="2090.5" cy="783.1" r="11.4"/><circle cx="2090.5" cy="1101.4" r="11.4"/><circle cx="2090.5" cy="790.6" r="11.4"/><circle cx="2090.5" cy="1096.9" r="11.4"/><circle cx="2090.5" cy="798.2" r="11.4"/><circle cx="2090.5" cy="1092.3" r="11.4"/><circle cx="2090.5" cy="805.7" r="11.4"/><circle cx="2090.5" cy="1087.6" r="11.4"/><circle cx="2090.5" cy="813.2" r="11.4"/><circle cx="2090.5" cy="1082.9" r="11.4"/><circle cx="2090.5" cy="820.7" r="11.4"/><circle cx="2090.5" cy="1078.0" r="11.4"/><circle cx="2090.5" cy="828.2" r="11.4"/><circle cx="2090.5" cy="1073.1" r="11.4"/><circle cx="2090.5" cy="835.7" r="11.4"/><circle cx="2090.5" cy="1068.0" r="11.4"/><circle cx="2090.5" cy="843.2" r="11.4"/><circle cx="2090.5" cy="1062.8" r="11.4"/><circle cx="2090.5" cy="850.8" r="11.4"/><circle cx="2090.5" cy="1057.6" r="11.4"/><circle cx="2090.5" cy="858.3" r="11.4"/><circle cx="2090.5" cy="1052.2" r="11.4"/><circle cx="2090.5" cy="865.8" r="11.4"/><circle cx="2090.5" cy="1046.7" r="11.4"/><circle cx="2090.5" cy="873.3" r="11.4"/><circle cx="2090.5" cy="1041.0" r="11.4"/><circle cx="2090.5" cy="880.8" r="11.4"/><circle cx="2090.5" cy="1035.3" r="11.4"/><circle cx="2090.5" cy="888.3" r="11.4"/><circle cx="2090.5" cy="1029.4" r="11.4"/><circle cx="2090.5" cy="895.9" r="11.4"/><circle cx="2090.5" cy="1023.4" r="11.4"/><circle cx="2090.5" cy="903.4" r="11.4"/><circle cx="2090.5" cy="1017.2" r="11.4"/><circle cx="2090.5" cy="910.9" r="11.4"/><circle cx="2090.5" cy="1010.9" r="11.4"/><circle cx="2090.5" cy="918.4" r="11.4"/><circle cx="2090.5" cy="1004.5" r="11.4"/><circle cx="2090.5" cy="925.9" r="11.4"/><circle cx="2090.5" cy="997.9" r="11.4"/><circle cx="2090.5" cy="933.4" r="11.4"/><circle cx="2090.5" cy="991.2" r="11.4"/><circle cx="2090.5" cy="941.0" r="11.4"/><circle cx="2090.5" cy="984.3" r="11.4"/><circle cx="2090.5" cy="948.5" r="11.4"/><circle cx="2090.5" cy="977.2" r="11.4"/><circle cx="2090.5" cy="956.0" r="11.4"/><circle cx="2090.5" cy="969.9" r="11.4"/><circle cx="2090.5" cy="963.5" r="11.4"/><circle cx="2090.5" cy="90.0" r="11.4"/><circle cx="2090.5" cy="1318.6" r="11.4"/><circle cx="2090.5" cy="122.4" r="11.4"/><circle cx="2090.5" cy="1313.1" r="11.4"/><circle cx="2090.5" cy="151.8" r="11.4"/><circle cx="2090.5" cy="1307.9" r="11.4"/><circle cx="2090.5" cy="217.2" r="11.4"/><circle cx="2090.5" cy="1295.5" r="11.4"/><circle cx="2086.0" cy="268.0" r="11.4"/><circle cx="2086.0" cy="1285.0" r="11.4"/></g>
<g stroke="#ff0000"><circle cx="1090.2" cy="1048.2" r="11.4"/><circle cx="1331.7" cy="1124.6" r="11.4"/><circle cx="1377.5" cy="1198.0" r="11.4"/><circle cx="1482.5" cy="1190.3" r="11.4"/><circle cx="1553.8" cy="1249.4" r="11.4"/><circle cx="1630.6" cy="1127.5" r="11.4"/><circle cx="1605.0" cy="1172.1" r="11.4"/><circle cx="1724.2" cy="1140.9" r="11.4"/><circle cx="1699.5" cy="1186.4" r="11.4"/><circle cx="1711.5" cy="1199.5" r="11.4"/><circle cx="1750.2" cy="1217.3" r="11.4"/><circle cx="1789.0" cy="1189.5" r="11.4"/><circle cx="1867.0" cy="1173.0" r="11.4"/><circle cx="1924.6" cy="1138.0" r="11.4"/><circle cx="1972.0" cy="1178.2" r="11.4"/><circle cx="2031.2" cy="1203.6" r="11.4"/><circle cx="1937.0" cy="1243.1" r="11.4"/><circle cx="2090.5" cy="1362.8" r="11.4"/><circle cx="2090.5" cy="1344.0" r="11.4"/><circle cx="2090.5" cy="1256.0" r="11.4"/><circle cx="2090.5" cy="1262.5" r="11.4"/><circle cx="2090.5" cy="1269.0" r="11.4"/><circle cx="2090.5" cy="1275.5" r="11.4"/><circle cx="2090.5" cy="1282.0" r="11.4"/><circle cx="2090.5" cy="1288.5" r="11.4"/><circle cx="2090.5" cy="1295.0" r="11.4"/><circle cx="2090.5" cy="1301.5" r="11.4"/><circle cx="2090.5" cy="1308.0" r="11.4"/><circle cx="2090.5" cy="1314.5" r="11.4"/><circle cx="2090.5" cy="1321.0" r="11.4"/><circle cx="2090.5" cy="1327.5" r="11.4"/><circle cx="2090.5" cy="1334.0" r="11.4"/><circle cx="2081.4" cy="1285.0" r="11.4"/></g>
<g stroke="#000000"><circle cx="1377.5" cy="576.8" r="11.4"/><circle cx="726.6" cy="719.7" r="11.4"/><circle cx="777.5" cy="869.2" r="11.4"/><circle cx="818.4" cy="943.0" r="11.4"/><circle cx="861.8" cy="948.8" r="11.4"/><circle cx="1018.8" cy="922.4" r="11.4"/><circle cx="1152.0" cy="948.8" r="11.4"/><circle cx="1209.6" cy="930.5" r="11.4"/><circle cx="1000.1" cy="963.5" r="11.4"/><circle cx="1317.3" cy="865.3" r="11.4"/><circle cx="1455.6" cy="842.8" r="11.4"/><circle cx="1508.7" cy="844.5" r="11.4"/><circle cx="1703.4" cy="939.6" r="11.4"/><circle cx="1996.4" cy="920.9" r="11.4"/><circle cx="470.0" cy="1049.1" r="11.4"/><circle cx="1000.1" cy="963.5" r="11.4"/><circle cx="1306.2" cy="971.8" r="11.4"/><circle cx="1465.3" cy="996.9" r="11.4"/><circle cx="1355.1" cy="1104.1" r="11.4"/><circle cx="1885.4" cy="1036.3" r="11.4"/><circle cx="1934.6" cy="1056.7" r="11.4"/><circle cx="1760.1" cy="1083.7" r="11.4"/><circle cx="1816.9" cy="1123.3" r="11.4"/><circle cx="2029.0" cy="984.7" r="11.4"/><circle cx="2061.3" cy="1104.5" r="11.4"/><circle cx="2090.5" cy="1034.0" r="11.4"/><circle cx="2090.5" cy="1045.0" r="11.4"/><circle cx="2090.5" cy="1056.0" r="11.4"/><circle cx="2090.5" cy="1066.0" r="11.4"/><circle cx="2090.5" cy="1076.0" r="11.4"/><circle cx="2090.5" cy="1087.0" r="11.4"/><circle cx="2090.5" cy="1097.0" r="11.4"/><circle cx="2090.5" cy="1107.3" r="11.4"/><circle cx="2090.5" cy="1152.5" r="11.4"/><circle cx="2090.5" cy="1165.0" r="11.4"/><circle cx="2090.5" cy="1177.0" r="11.4"/><circle cx="2090.5" cy="1188.0" r="11.4"/><circle cx="2090.5" cy="1199.0" r="11.4"/><circle cx="2090.5" cy="1213.0" r="11.4"/><circle cx="2090.5" cy="1227.0" r="11.4"/></g>
<g stroke="#00ff00"><circle cx="187.5" cy="963.5" r="11.4"/><circle cx="396.2" cy="883.8" r="11.4"/><circle cx="374.2" cy="936.8" r="11.4"/><circle cx="478.2" cy="957.5" r="11.4"/><circle cx="572.5" cy="945.0" r="11.4"/><circle cx="1789.0" cy="599.2" r="11.4"/><circle cx="1181.2" cy="738.4" r="11.4"/><circle cx="1203.8" cy="879.5" r="11.4"/><circle cx="1182.9" cy="953.0" r="11.4"/><circle cx="1497.0" cy="861.2" r="11.4"/><circle cx="1617.2" cy="858.7" r="11.4"/><circle cx="1508.7" cy="963.5" r="11.4"/><circle cx="2062.0" cy="935.2" r="11.4"/><circle cx="701.9" cy="984.7" r="11.4"/><circle cx="738.6" cy="1059.0" r="11.4"/><circle cx="701.0" cy="1115.1" r="11.4"/><circle cx="861.8" cy="976.8" r="11.4"/><circle cx="1127.0" cy="980.0" r="11.4"/><circle cx="1508.7" cy="963.5" r="11.4"/><circle cx="1587.2" cy="1001.3" r="11.4"/><circle cx="1376.8" cy="1069.4" r="11.4"/><circle cx="1172.9" cy="1095.1" r="11.4"/><circle cx="1438.6" cy="1132.9" r="11.4"/><circle cx="1570.5" cy="1113.2" r="11.4"/><circle cx="1683.7" cy="1005.6" r="11.4"/><circle cx="1777.7" cy="1118.8" r="11.4"/><circle cx="1756.5" cy="1160.1" r="11.4"/><circle cx="2025.6" cy="1050.7" r="11.4"/><circle cx="1957.2" cy="1118.8" r="11.4"/><circle cx="2090.5" cy="1044.5" r="11.4"/><circle cx="2090.5" cy="1065.1" r="11.4"/><circle cx="2090.5" cy="1083.9" r="11.4"/><circle cx="2090.5" cy="1092.7" r="11.4"/><circle cx="2090.5" cy="1102.7" r="11.4"/><circle cx="2090.5" cy="1166.0" r="11.4"/><circle cx="2090.5" cy="1188.0" r="11.4"/><circle cx="2090.5" cy="1212.0" r="11.4"/><circle cx="2090.5" cy="1240.0" r="11.4"/></g>
</g>
<rect x="188.0" y="63.0" width="1902.8" height="1500.0" stroke="#000" stroke-width="2" fill="none"/><g font-family="'Liberation Sans', sans-serif" font-size="46.7" fill="#000" stroke="#000" stroke-width="0.5"><text transform="translate(188.0 1615.0) scale(0.928 1)" text-anchor="middle">0</text><text transform="translate(378.2 1615.0) scale(0.928 1)" text-anchor="middle">10</text><text transform="translate(568.8 1615.0) scale(0.928 1)" text-anchor="middle">20</text><text transform="translate(759.1 1615.0) scale(0.928 1)" text-anchor="middle">30</text><text transform="translate(949.7 1615.0) scale(0.928 1)" text-anchor="middle">40</text><text transform="translate(1140.1 1615.0) scale(0.928 1)" text-anchor="middle">50</text><text transform="translate(1329.4 1615.0) scale(0.928 1)" text-anchor="middle">60</text><text transform="translate(1519.0 1615.0) scale(0.928 1)" text-anchor="middle">70</text><text transform="translate(1709.6 1615.0) scale(0.928 1)" text-anchor="middle">80</text><text transform="translate(1900.0 1615.0) scale(0.928 1)" text-anchor="middle">90</text><text transform="translate(2090.8 1615.0) scale(0.928 1)" text-anchor="middle">100</text><text transform="translate(173.9 1577.9) scale(0.928 1)" text-anchor="end">0</text><text transform="translate(173.9 1277.3) scale(0.928 1)" text-anchor="end">0.5</text><text transform="translate(173.9 978.4) scale(0.928 1)" text-anchor="end">1</text><text transform="translate(173.9 677.7) scale(0.928 1)" text-anchor="end">1.5</text><text transform="translate(173.9 378.4) scale(0.928 1)" text-anchor="end">2</text><text transform="translate(173.9 77.9) scale(0.928 1)" text-anchor="end">2.5</text></g>
<g font-family="'Liberation Sans', sans-serif" font-size="60.2" fill="#000" stroke="#000" stroke-width="0.6"><text transform="translate(1136.6 1682.9) scale(0.99 1)" text-anchor="middle">Domestication Index D (%)</text><text transform="translate(94.6 814.2) rotate(-90) scale(0.985 1)" text-anchor="middle">Expansion Factor E</text></g>
</svg>
</body></html>
